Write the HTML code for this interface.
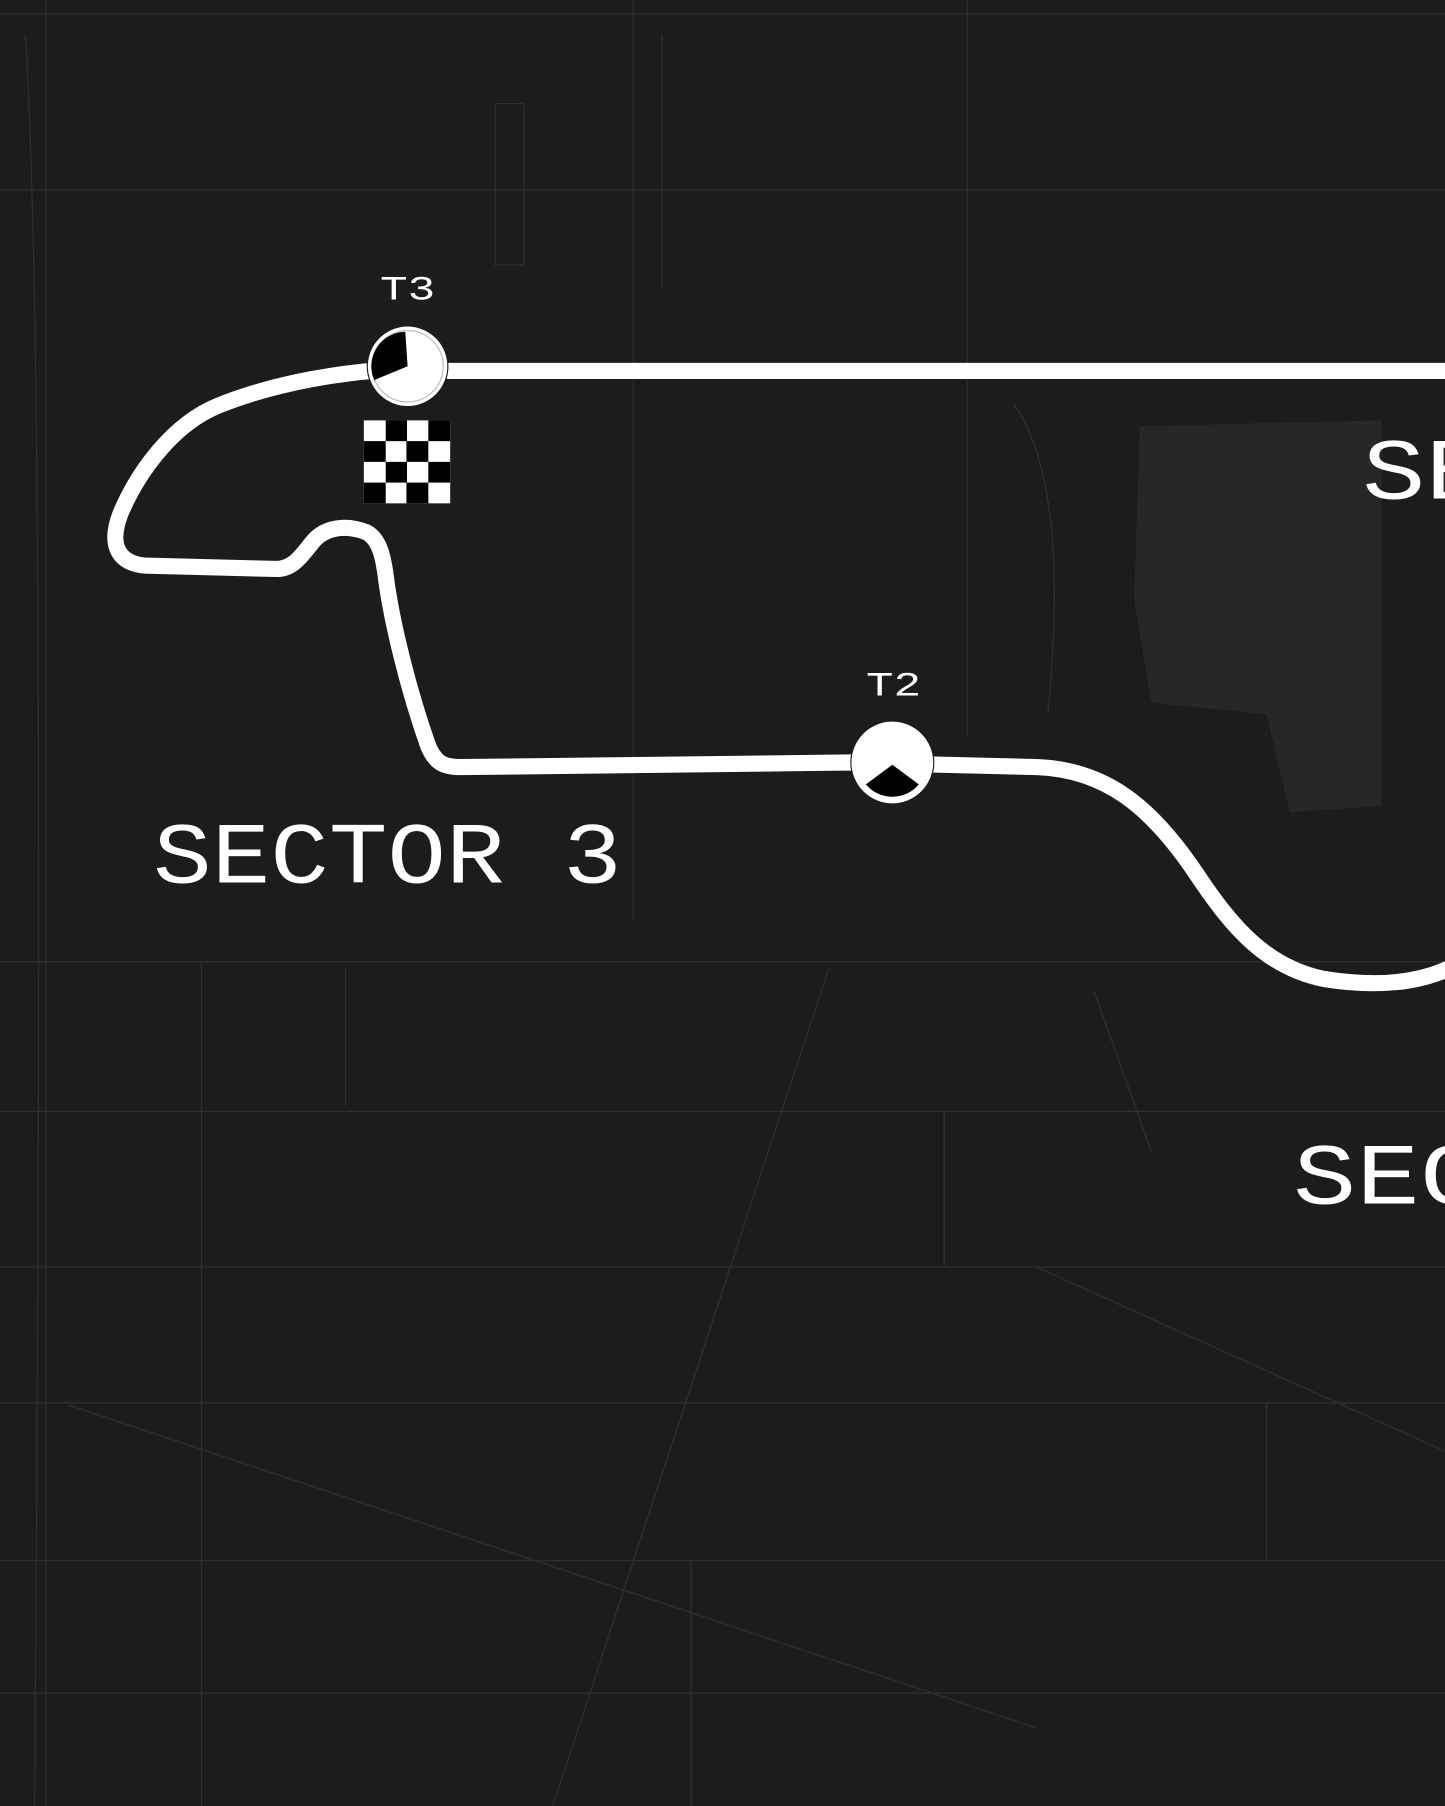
<!DOCTYPE html>
<html><head><meta charset="utf-8"><style>
html,body{margin:0;padding:0;background:#1c1c1c;}
svg{display:block}
text{font-family:"Liberation Mono","DejaVu Sans Mono",monospace;fill:#fff;}
</style></head><body>
<svg width="1445" height="1806" viewBox="0 0 1255 1568" preserveAspectRatio="none" xmlns="http://www.w3.org/2000/svg">
<rect width="1255" height="1568" fill="#1c1c1c"/>
<path d="M990 370 L1200 365 L1200 700 L1120 705 L1100 620 L1000 610 L985 520 Z" fill="#272727"/>
<g stroke="#303030" stroke-width="1" fill="none">
<path d="M0 12 H1255"/><path d="M0 165 H1255"/><path d="M0 835 H1255"/><path d="M0 965 H1255"/>
<path d="M0 1100 H1255"/><path d="M0 1218 H1255"/><path d="M0 1355 H1255"/><path d="M0 1470 H1255"/>
<path d="M40 0 V1568"/><path d="M175 835 V1568"/><path d="M550 0 V800"/><path d="M840 0 V640"/>
<path d="M720 840 L480 1568"/><path d="M60 1220 L900 1500"/><path d="M900 1100 L1255 1260"/>
<path d="M430 90 V230 H455 V90 Z"/><path d="M575 30 V250"/><path d="M22 30 Q40 300 30 1568"/>
<path d="M880 350 Q930 420 910 620"/><path d="M950 860 L1000 1000"/><path d="M600 1355 V1568"/>
<path d="M300 840 V960"/><path d="M820 965 V1100"/><path d="M1100 1218 V1355"/>
</g>
<path d="M1260 322 L390 322 L354 320 C300 322 240 332 190 352 C150 368 120 410 105 445 C95 470 100 488 125 491 L240 494 C255 494 262 482 272 470 C282 458 300 455 318 462 C330 468 333 485 335 500 C340 540 355 600 372 648 C378 662 385 666 400 666 L740 662 L900 666 C960 668 1000 700 1040 760 C1070 805 1100 840 1150 850 C1200 858 1235 852 1260 840" fill="none" stroke="#fff" stroke-width="14" stroke-linejoin="round" stroke-linecap="round"/>
<circle cx="354" cy="318" r="35" fill="#fff" stroke="#1c1c1c" stroke-width="1"/>
<circle cx="354" cy="318" r="31" fill="none" stroke="#bbb" stroke-width="1"/>
<path d="M354 318 L352 288 A30 30 0 0 0 325 330 Z" fill="#000"/>
<circle cx="775" cy="662" r="36" fill="#fff" stroke="#1c1c1c" stroke-width="1"/>
<path d="M775 664 L752 681 A30 30 0 0 0 798 681 Z" fill="#000"/>
<g>
<rect x="316" y="365" width="75" height="72" fill="#fff"/>
<rect x="335" y="365" width="18.5" height="18" fill="#000"/><rect x="372" y="365" width="19" height="18" fill="#000"/>
<rect x="316" y="383" width="19" height="18" fill="#000"/><rect x="353" y="383" width="19" height="18" fill="#000"/>
<rect x="335" y="401" width="18.5" height="18" fill="#000"/><rect x="372" y="401" width="19" height="18" fill="#000"/>
<rect x="316" y="419" width="19" height="18" fill="#000"/><rect x="353" y="419" width="19" height="18" fill="#000"/>
</g>
<text x="330" y="260" font-size="30" textLength="48" lengthAdjust="spacingAndGlyphs">T3</text>
<text x="752" y="604" font-size="30" textLength="48" lengthAdjust="spacingAndGlyphs">T2</text>
<text x="133" y="766" font-size="76" textLength="407" lengthAdjust="spacingAndGlyphs">SECTOR 3</text>
<text x="1183" y="433" font-size="76" textLength="110" lengthAdjust="spacingAndGlyphs">SE</text>
<text x="1123" y="1045" font-size="76" textLength="165" lengthAdjust="spacingAndGlyphs">SEC</text>
</svg>
</body></html>
